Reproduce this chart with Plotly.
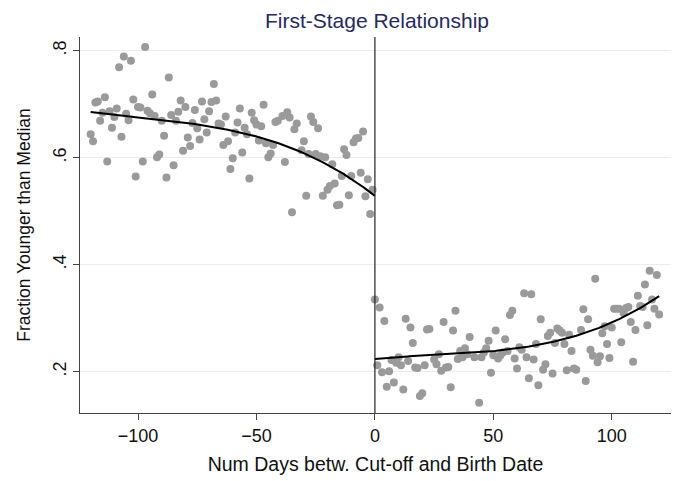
import numpy as np
import plotly.graph_objects as go

# Left of cut-off (days -120 .. -1)
left_x = [-120,-119,-118,-117,-116,-115,-114,-113,-112,-111,-110,-109,-108,-107,-106,-105,-104,-103,-102,-101,
          -100,-99,-98,-97,-96,-95,-94,-93,-92,-91,-90,-89,-88,-87,-86,-85,-84,
          -83,-82,-81,-80,-79,-78,-77,-76,-75,-74,-73,-72,-71,-70,-69,-68,-67,-66,-65,-64,-63,-62,-61,-60,
          -59,-58,-57,-56,-55,-54,-53,-52,-51,-50,-49,-48,-47,-46,-45,-44,-43,-42,
          -41,-39,-38,-37,-36,-35,-34,-33,-31,-30,-29,-28,-27,-26,-25,-24,-23,-22,-21,-20,-19,-18,-17,-16,
          -15,-14,-13,-12,-11,-10,-9,-8,-7,-6,-5,-4,-3,-2,-1]
left_y = [0.644,0.631,0.703,0.705,0.669,0.684,0.713,0.593,0.687,0.656,0.676,0.692,0.769,0.639,0.789,0.682,0.670,0.781,0.709,0.565,
          0.695,0.694,0.593,0.807,0.688,0.683,0.718,0.678,0.601,0.606,0.669,0.641,0.563,0.750,0.680,0.586,0.669,
          0.686,0.707,0.613,0.695,0.638,0.622,0.665,0.689,0.655,0.634,0.705,0.672,0.647,0.687,0.704,0.738,0.707,0.664,0.662,0.624,0.677,0.631,0.579,0.599,
          0.647,0.666,0.692,0.610,0.656,0.644,0.561,0.684,0.670,0.662,0.632,0.659,0.699,0.627,0.601,0.608,0.624,0.667,
          0.669,0.678,0.592,0.685,0.675,0.498,0.653,0.664,0.614,0.631,0.529,0.607,0.677,0.667,0.607,0.655,0.603,0.529,0.601,0.540,0.547,0.588,0.552,0.511,
          0.512,0.566,0.616,0.605,0.530,0.566,0.629,0.636,0.637,0.572,0.649,0.528,0.560,0.495,0.540]

# Right of cut-off (days 0 .. 120)
right_x = [0,1,2,3,4,5,6,7,8,9,10,11,12,13,14,15,16,17,18,19,20,21,22,23,25,26,27,28,29,30,31,32,33,34,35,36,37,38,39,40,
           42,44,45,46,47,48,49,50,51,52,53,54,55,56,57,58,59,60,61,62,63,64,65,66,67,68,69,70,71,72,73,74,75,76,77,78,79,80,81,82,
           83,84,85,87,88,89,90,91,92,93,94,95,96,97,98,99,100,101,102,103,104,105,106,107,108,109,110,111,112,113,114,115,116,117,118,119,120]
right_y = [0.335,0.212,0.320,0.199,0.295,0.172,0.201,0.222,0.180,0.217,0.227,0.212,0.167,0.299,0.220,0.283,0.254,0.208,0.207,0.155,0.160,0.212,0.279,0.280,0.223,0.214,0.233,0.202,0.293,0.208,0.209,0.171,0.277,0.314,0.224,0.239,0.227,0.244,0.233,0.265,
           0.227,0.142,0.227,0.236,0.244,0.258,0.198,0.231,0.277,0.225,0.231,0.236,0.261,0.239,0.306,0.314,0.225,0.206,0.246,0.241,0.347,0.227,0.188,0.345,0.223,0.252,0.175,0.298,0.204,0.214,0.267,0.273,0.197,0.254,0.281,0.277,0.273,0.252,0.203,0.269,
           0.239,0.206,0.204,0.278,0.317,0.183,0.298,0.241,0.230,0.374,0.218,0.229,0.272,0.285,0.252,0.226,0.283,0.318,0.318,0.318,0.255,0.310,0.319,0.321,0.293,0.219,0.278,0.342,0.323,0.321,0.363,0.287,0.389,0.335,0.318,0.381,0.307]

# Fitted curves
fit_left_x = [-120, -104, -83, -60, -42, -31, -19, -11, -3, 0]
fit_left_y = [0.685, 0.678, 0.667, 0.650, 0.628, 0.611, 0.585, 0.565, 0.536, 0.530]
fit_right_x = [0, 20, 40, 60, 80, 95, 110, 120]
fit_right_y = [0.225, 0.228, 0.236, 0.246, 0.260, 0.282, 0.314, 0.342]

x_ticks = [-100, -50, 0, 50, 100]
y_ticks = [0.2, 0.4, 0.6, 0.8]
y_tick_labels = [".2", ".4", ".6", ".8"]


def smooth(xs, ys, deg=3):
    c = np.polyfit(xs, ys, deg)
    xx = np.linspace(min(xs), max(xs), 200)
    return xx, np.polyval(c, xx)


dot = "#9a9a9a"
fig = go.Figure()
fig.add_trace(go.Scatter(x=left_x, y=left_y, mode="markers",
                         marker=dict(color=dot, size=8, line=dict(width=0)), showlegend=False))
fig.add_trace(go.Scatter(x=right_x, y=right_y, mode="markers",
                         marker=dict(color=dot, size=8, line=dict(width=0)), showlegend=False))
lx, ly = smooth(fit_left_x, fit_left_y)
rx, ry = smooth(fit_right_x, fit_right_y)
fig.add_trace(go.Scatter(x=lx, y=ly, mode="lines", line=dict(color="black", width=2), showlegend=False))
fig.add_trace(go.Scatter(x=rx, y=ry, mode="lines", line=dict(color="black", width=2), showlegend=False))

fig.add_shape(type="line", x0=0, x1=0, xref="x", y0=0, y1=1, yref="y domain",
              line=dict(color="#222222", width=1.2))

font = "Liberation Sans, Arial, Helvetica, sans-serif"
fig.update_layout(
    width=678, height=481,
    margin=dict(l=80, r=7, t=37, b=68),
    paper_bgcolor="white", plot_bgcolor="white",
    font=dict(family=font, size=18, color="#111111"),
    title=dict(text="First-Stage Relationship", x=0.556, xanchor="center", y=0.958, yanchor="middle",
               font=dict(family=font, size=21, color="#262b5e")),
    xaxis=dict(range=[-124.5, 125], tickvals=x_ticks, ticks="outside", ticklen=6, tickcolor="#444",
               showline=True, linecolor="#444", linewidth=1, showgrid=False, zeroline=False,
               tickfont=dict(size=18),
               title=dict(text="Num Days betw. Cut-off and Birth Date", font=dict(size=19.5), standoff=12)),
    yaxis=dict(range=[0.123, 0.8256], tickvals=y_ticks, ticktext=y_tick_labels, ticks="outside", ticklen=6,
               tickcolor="#444", tickangle=-90, showline=True, linecolor="#444", linewidth=1,
               showgrid=True, gridcolor="#ececec", gridwidth=1, zeroline=False,
               tickfont=dict(size=18),
               title=dict(text="Fraction Younger than Median", font=dict(size=17.5), standoff=14)),
)
fig.write_html("out.html")
